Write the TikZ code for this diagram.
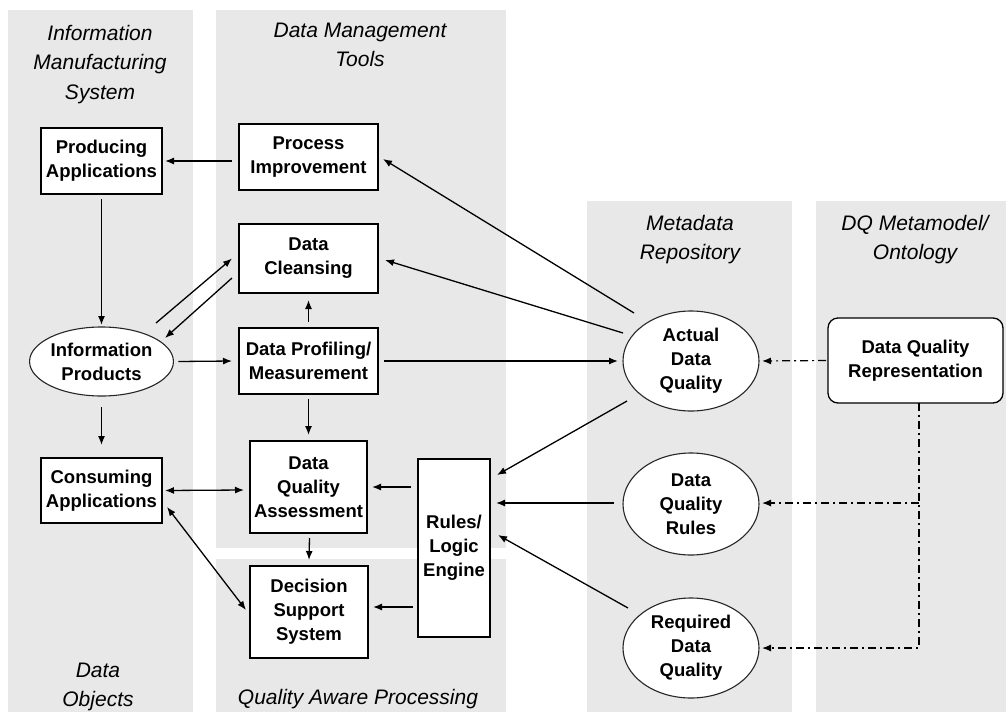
\documentclass[tikz,border=0pt]{standalone}
\usepackage{fontspec}
\setmainfont{Liberation Sans}
\usetikzlibrary{shapes.geometric,arrows.meta}
\definecolor{panel}{RGB}{232,232,232}
\newcommand\myNodeFont{\bfseries\fontsize{18.5}{24}\selectfont}
\newcommand\myTitleFont{\itshape\fontsize{21}{29.5}\selectfont}
\begin{document}
\begin{tikzpicture}[x=1pt,y=-1pt,
  every node/.style={inner sep=0pt, outer sep=0pt},
  box/.style={draw, fill=white, line width=1.3pt, align=center, font=\myNodeFont},
  ell/.style={ellipse, draw=black!85, fill=white, line width=1.1pt, align=center, font=\myNodeFont, minimum width=136pt, minimum height=100pt},
  ttl/.style={align=center, anchor=north, font=\myTitleFont},
  arr/.style={line width=1.3pt, -{Latex[length=9pt,width=7pt]}},
  darr/.style={line width=1.3pt, {Latex[length=9pt,width=7pt]}-{Latex[length=9pt,width=7pt]}},
  dd/.style={line width=1.2pt, dash pattern=on 8pt off 4pt on 2pt off 4pt, -{Latex[length=9pt,width=7pt]}},
]
\useasboundingbox (0,0) rectangle (1006,712);
% panels
\fill[panel] (8,10) rectangle (193,712);
\fill[panel] (216,10) rectangle (506,548);
\fill[panel] (216,559) rectangle (506,712);
\fill[panel] (587,201) rectangle (792,712);
\fill[panel] (816,201) rectangle (1006,712);
% titles
\node[ttl] (t1) at (100,25) {Information\\Manufacturing\\System};
\node[ttl] (t2) at (360,23) {Data Management\\Tools};
\node[ttl] (t3) at (690,215) {Metadata\\Repository};
\node[ttl] (t4) at (915,215) {DQ Metamodel/\\Ontology};
\node[ttl] (t5) at (98,663) {Data\\Objects};
\node[ttl] (t6) at (358,689) {Quality Aware Processing};
% nodes
\node[box, minimum width=121pt, minimum height=66pt] (prod) at (101.5,161) {Producing\\Applications};
\node[box, minimum width=139pt, minimum height=66pt] (proc) at (308.5,157) {Process\\Improvement};
\node[box, minimum width=139pt, minimum height=69pt] (clean) at (308.5,258.5) {Data\\Cleansing};
\node[box, minimum width=139pt, minimum height=66pt] (prof) at (308.5,361) {Data Profiling/\\Measurement};
\node[ell, minimum width=123pt, minimum height=69pt] (info) at (101.5,361.5) {Information\\Products};
\node[box, minimum width=117pt, minimum height=92pt] (dqa) at (308.5,487) {Data\\Quality\\Assessment};
\node[box, minimum width=121pt, minimum height=65pt] (cons) at (101.5,490.5) {Consuming\\Applications};
\node[box, minimum width=118pt, minimum height=92pt] (dss) at (309,612) {Decision\\Support\\System};
\node[box, minimum width=72pt, minimum height=178pt] (rules) at (454,548) {Rules/\\Logic\\Engine};
\node[ell] (act) at (691,361) {Actual\\Data\\Quality};
\node[ell, minimum height=102pt] (rul) at (691,504) {Data\\Quality\\Rules};
\node[ell] (req) at (691,648) {Required\\Data\\Quality};
\node[box, rounded corners=10pt, minimum width=175pt, minimum height=85pt] (rep) at (915.5,360.5) {Data Quality\\Representation};
% arrows
\draw[arr] ([shift={(-7,4)}]proc.west) -- ([shift={(3,0)}]prod.east);
\draw[arr] ([shift={(0,5)}]prod.south) -- ([shift={(0,-2)}]info.north);
\draw[arr] ([shift={(54.5,-38.5)}]info.center) -- ([shift={(-7,0)}]clean.west);
\draw[arr] ([shift={(-7,19.5)}]clean.west) -- ([shift={(63.5,-23.5)}]info.center);
\draw[arr] ([shift={(5,0)}]info.east) -- ([shift={(-7,0)}]prof.west);
\draw[arr] ([shift={(0,-6)}]prof.north) -- ([shift={(0,7)}]clean.south);
\draw[arr] ([shift={(0,5)}]prof.south) -- ([shift={(0,-6)}]dqa.north);
\draw[arr] ([shift={(6,0)}]prof.east) -- ([shift={(-5,0)}]act.west);
\draw[arr] ([shift={(-57,-48)}]act.center) -- ([shift={(5,2)}]proc.east);
\draw[arr] ([shift={(-68,-28)}]act.center) -- ([shift={(7,1.5)}]clean.east);
\draw[arr] ([shift={(-64,40)}]act.center) -- ([shift={(7,16)}]rules.north east);
\draw[arr] ([shift={(-9,-1)}]rul.west) -- ([shift={(6,-45)}]rules.east);
\draw[arr] ([shift={(-63,-40)}]req.center) -- ([shift={(8,-13)}]rules.east);
\draw[arr] ([shift={(-7,-61)}]rules.west) -- ([shift={(5,0)}]dqa.east);
\draw[arr] ([shift={(-5,59)}]rules.west) -- ([shift={(5,-5)}]dss.east);
\draw[arr] ([shift={(1,5)}]dqa.south) -- ([shift={(0,-6)}]dss.north);
\draw[arr] ([shift={(0,11)}]info.south) -- ([shift={(0,-13)}]cons.north);
\draw[darr] ([shift={(3,0)}]cons.east) -- ([shift={(-6,3)}]dqa.west);
\draw[darr] ([shift={(5,16.5)}]cons.east) -- ([shift={(-4,-2)}]dss.west);
% dash-dot connectors
\draw[dd] ([shift={(-2,0)}]rep.west) -- ([shift={(3,0)}]act.east);
\coordinate (j) at ([shift={(3.5,0)}]rep.south);
\coordinate (rt) at ([shift={(3,-1)}]rul.east);
\draw[dd] (j) |- ([shift={(3,0)}]req.east);
\draw[dd] (j |- rt) -- (rt);
\end{tikzpicture}
\end{document}
